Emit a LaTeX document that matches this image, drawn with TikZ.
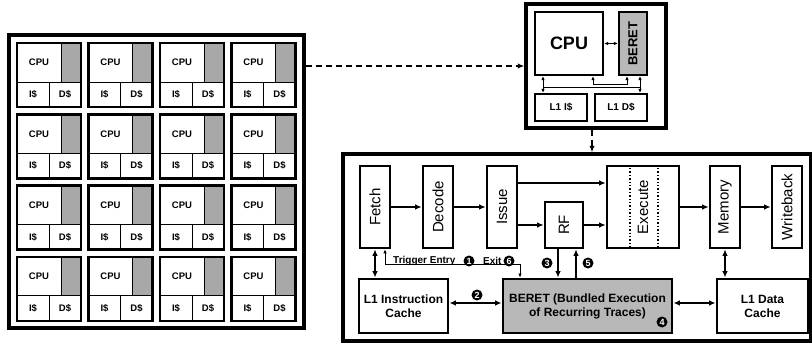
\documentclass[tikz,border=0pt]{standalone}
\usepackage{fontspec}
\setmainfont{Liberation Sans}
\usepackage{graphicx}
\usetikzlibrary{arrows.meta}
\definecolor{stripgray}{gray}{0.66}
\definecolor{beretgray}{gray}{0.72}

\begin{document}
\begin{tikzpicture}[x=1pt, y=-1pt]
			\tikzset{>={Latex[length=6.5pt,width=5.5pt]}}
			\tikzset{
				frame/.style={draw, line width=3.4, inner sep=0pt},
				box/.style={draw, line width=2.2, inner sep=0pt},
				stage/.style={draw, line width=2.6, inner sep=0pt, minimum width=30, minimum height=82, font=\fontsize{15}{15}\selectfont},
				unit/.style={draw, line width=2.8, inner sep=0pt, minimum height=54, align=center, font=\bfseries\fontsize{12}{14}\selectfont},
				cell/.style={inner sep=0pt, font=\bfseries\fontsize{9.5}{9.5}\selectfont},
				flow/.style={->, line width=2.1},
				link/.style={<->, line width=1, >={Latex[length=4pt,width=3.5pt]}},
				hop/.style={->, line width=2.4, dash pattern=on 6pt off 4pt},
				num/.style={circle, fill=black, text=white, inner sep=0pt, minimum size=11, font=\bfseries\fontsize{9}{9}\selectfont},
				lbl/.style={inner sep=0pt, font=\bfseries\fontsize{10}{10}\selectfont},
			}
			\useasboundingbox (0,0) rectangle (812,350);

			% 4x4 tiled chip
			\node[frame, minimum width=295, minimum height=293] (chip) at (156.5,181.5) {};
			\foreach \col in {0,...,3}{
				\foreach \row in {0,...,3}{
					\pgfmathsetmacro{\cx}{17+71.5*\col}
					\pgfmathsetmacro{\cy}{43+71.3*\row}
					\fill[stripgray] (\cx+44,\cy) rectangle (\cx+64,\cy+39);
					\draw[line width=0.9] (\cx+44,\cy) -- (\cx+44,\cy+39);
					\draw[line width=0.9] (\cx,\cy+39) -- (\cx+64,\cy+39);
					\draw[line width=0.9] (\cx+32,\cy+39) -- (\cx+32,\cy+64);
					\draw[line width=2.8] (\cx,\cy) rectangle (\cx+64,\cy+64);
					\node[cell] (cpu-\row-\col) at (\cx+22,\cy+19.5) {CPU};
					\node[cell] (ic-\row-\col) at (\cx+16,\cy+51.5) {I\$};
					\node[cell] (dc-\row-\col) at (\cx+48,\cy+51.5) {D\$};
				}
			}

			% one core
			\node[frame, minimum width=140, minimum height=124] (core) at (596,66) {};
			\node[box, minimum width=68, minimum height=63, font=\bfseries\fontsize{18}{18}\selectfont] (cpu) at (569,43.5) {CPU};
			\node[box, fill=beretgray, minimum width=28, minimum height=63, font=\bfseries\fontsize{13}{13}\selectfont] (beret-s) at (633,43.5) {\rotatebox{90}{BERET}};
			\node[box, minimum width=52, minimum height=27, font=\bfseries\fontsize{10}{10}\selectfont] (l1i-s) at (561,107.5) {L1 I\$};
			\node[box, minimum width=52, minimum height=27, font=\bfseries\fontsize{10}{10}\selectfont] (l1d-s) at (621,107.5) {L1 D\$};
			\draw[link] (cpu.east) -- (beret-s.west);
			\draw[link] ([xshift=-26]cpu.south) -- ([xshift=-26]cpu.south |- l1i-s.north);
			\draw[link] ([xshift=24]cpu.south) -- ++(0,8) -| ([xshift=-6]beret-s.south);
			\draw[line width=1] ([xshift=-26,yshift=-11]cpu.south) -- ([xshift=7,yshift=-11]beret-s.south);
			\draw[link] ([xshift=7]beret-s.south) -- ([xshift=7]beret-s.south |- l1d-s.north);

			\draw[hop] (chip.east |- core.west) -- (core.west);

			% pipeline
			\node[frame, minimum width=468, minimum height=187] (pipe) at (577,247.5) {};
			\draw[hop] ([xshift=-4]core.south) -- ([xshift=-4]core.south |- pipe.north);

			\node[stage] (fetch) at (375,207) {\rotatebox{90}{Fetch}};
			\node[stage] (decode) at (438,207) {\rotatebox{90}{Decode}};
			\node[stage] (issue) at (502,207) {\rotatebox{90}{Issue}};
			\node[stage, minimum width=38, minimum height=46] (rf) at (564,225) {\rotatebox{90}{RF}};
			\node[stage, minimum width=72] (execute) at (643,207) {\rotatebox{90}{Execute}};
			\node[stage] (memory) at (725,207) {\rotatebox{90}{Memory}};
			\node[stage] (writeback) at (787,207) {\rotatebox{90}{Writeback}};
			\draw[line width=1.4, dotted] ([xshift=-13]execute.north) -- ([xshift=-13]execute.south);
			\draw[line width=1.4, dotted] ([xshift=15]execute.north) -- ([xshift=15]execute.south);

			\node[unit, minimum width=89] (l1i) at (403.5,306) {L1 Instruction\\Cache};
			\node[unit, minimum width=169, fill=beretgray] (beret) at (587.5,306) {BERET (Bundled Execution\\of Recurring Traces)};
			\node[unit, minimum width=91] (l1d) at (762.5,306) {L1 Data\\Cache};

			\draw[flow] (fetch) -- (decode);
			\draw[flow] (decode) -- (issue);
			\draw[flow] ([yshift=24]issue.east) -- ([yshift=24]issue.east -| execute.west);
			\draw[flow] (issue.east |- rf.west) -- (rf.west);
			\draw[flow] (rf.east) -- (rf.east -| execute.west);
			\draw[flow] (execute) -- (memory);
			\draw[flow] (memory) -- (writeback);

			\draw[flow, <->] (fetch.south) -- (fetch.south |- l1i.north);
			\draw[flow, <->] (memory.south) -- (memory.south |- l1d.north);
			\draw[flow, <->] ([yshift=3]l1i.east) -- ([yshift=3]beret.west);
			\draw[flow, <->] ([yshift=3]beret.east) -- ([yshift=3]l1d.west);
			\draw[flow] ([xshift=-6]rf.south) -- ([xshift=-6]rf.south |- beret.north);
			\draw[flow] ([xshift=12]rf.south |- beret.north) -- ([xshift=12]rf.south);
			\draw[link] ([xshift=10]fetch.south) |- ([xshift=-67.5,yshift=13]beret.north) -- ([xshift=-67.5]beret.north);

			\node[lbl, anchor=west] (trigger) at (393,261) {Trigger Entry};
			\node[num] (n1) at (469,261) {1};
			\node[lbl, anchor=west] (exit) at (483,261) {Exit};
			\node[num] (n6) at (509,261) {6};
			\node[num] (n2) at (477,295) {2};
			\node[num] (n3) at (547,263) {3};
			\node[num] (n5) at (588,263) {5};
			\node[num] (n4) at (662,322) {4};
		\end{tikzpicture}
\end{document}
